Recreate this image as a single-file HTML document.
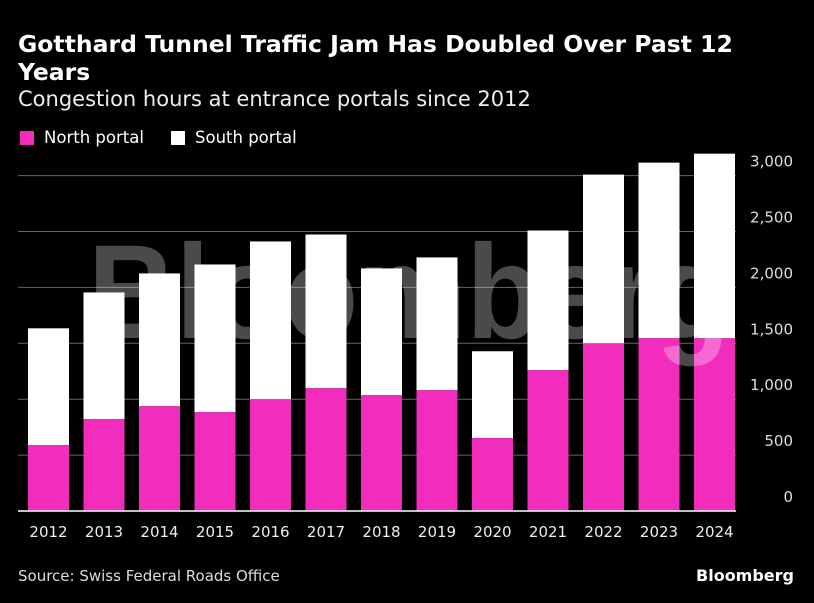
<!DOCTYPE html>
<html><head><meta charset="utf-8"><style>
body{margin:0;background:#000;width:814px;height:603px;overflow:hidden;font-family:"DejaVu Sans",sans-serif;color:#fff}
.t{position:absolute;left:18px;top:30px;font-size:23.5px;font-weight:bold;line-height:28px;width:760px}
.s{position:absolute;left:18px;top:87px;font-size:21px;color:#eee}
.lg{position:absolute;top:128px;font-size:16.5px;display:flex;align-items:center}
.sq{width:14px;height:14px;margin-right:10px;display:inline-block}
.src{position:absolute;left:18px;top:567px;font-size:15px;color:#ddd}
.brand{position:absolute;right:20px;top:566px;font-size:16px;font-weight:bold}
</style></head><body>
<div class="t">Gotthard Tunnel Traffic Jam Has Doubled Over Past 12 Years</div>
<div class="s">Congestion hours at entrance portals since 2012</div>
<div class="lg" style="left:20px"><span class="sq" style="background:#f22cbd"></span>North portal</div>
<div class="lg" style="left:171px"><span class="sq" style="background:#fff"></span>South portal</div>
<svg id="c" width="814" height="603" style="position:absolute;left:0;top:0"></svg>
<div class="src">Source: Swiss Federal Roads Office</div>
<div class="brand">Bloomberg</div>
<script>
const years=["2012","2013","2014","2015","2016","2017","2018","2019","2020","2021","2022","2023","2024"];
const north=[589,821,937,884,1000,1098,1036,1080,652,1259,1500,1545,1545];
const total=[1634,1955,2125,2205,2411,2473,2170,2268,1429,2509,3009,3116,3196];
const ticks=[0,500,1000,1500,2000,2500,3000];
const tickLabels=["0","500","1,000","1,500","2,000","2,500","3,000"];
const svg=document.getElementById('c');const NS="http://www.w3.org/2000/svg";
const y=v=>511-v*0.1118;const x=i=>28+i*55.5;const bw=41;
function mk(t,a){const e=document.createElementNS(NS,t);for(const k in a)e.setAttribute(k,a[k]);svg.appendChild(e);return e;}
ticks.forEach((t,i)=>{
 if(t>0){const l=mk('line',{x1:18,x2:736,y1:y(t),y2:y(t),stroke:'#666','stroke-width':1});
 
 }
 const tx=mk('text',{x:793,y:y(t)-9,'text-anchor':'end','font-size':15,fill:'#ddd','font-family':'DejaVu Sans'});
 tx.textContent=tickLabels[i];
 
 
});
years.forEach((yr,i)=>{
 const s=mk('rect',{x:x(i),y:y(total[i]),width:bw,height:y(north[i])-y(total[i]),fill:'#fff'});
 
 
 const n=mk('rect',{x:x(i),y:y(north[i]),width:bw,height:y(0)-y(north[i]),fill:'#f22cbd'});
 
 
 const tx=mk('text',{x:x(i)+bw/2,y:537,'text-anchor':'middle','font-size':15,fill:'#eee','font-family':'DejaVu Sans'});
 tx.textContent=yr;
 
 
});
const ax=mk('line',{x1:18,x2:736,y1:511,y2:511,stroke:'#fff','stroke-width':1.5});


const wm=mk('text',{x:88,y:338,'font-size':134,'font-weight':'bold',fill:'#fff','fill-opacity':0.29,'font-family':'Liberation Sans',textLength:642,lengthAdjust:'spacingAndGlyphs'});
wm.textContent='Bloomberg';


</script>
</body></html>
